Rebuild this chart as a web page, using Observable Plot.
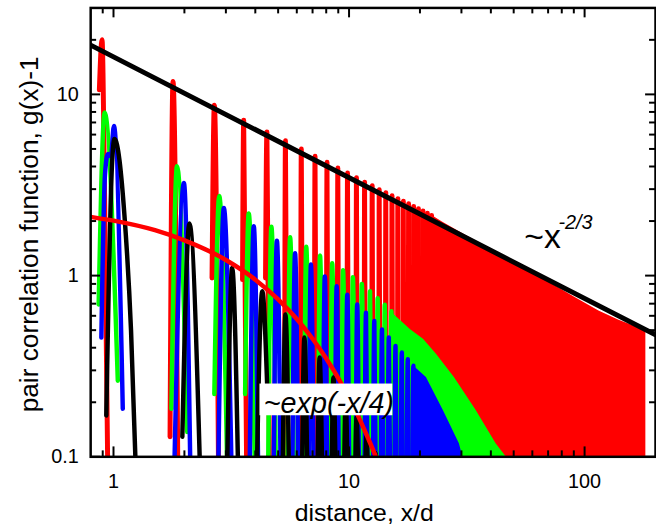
<!DOCTYPE html>
<html><head><meta charset="utf-8">
<script src="https://cdn.jsdelivr.net/npm/d3@7"></script>
<script src="https://cdn.jsdelivr.net/npm/@observablehq/plot@0.6"></script>
<style>
html,body{margin:0;padding:0;background:#fff;overflow:hidden;}
#chart{width:656px;height:532px;overflow:hidden;}
svg{display:block;}
</style></head><body><div id="chart"></div>
<script>
// ---------- data ----------
const BOTTOM = 0.07; // legs continue below the 0.1 frame edge

// red (sharp peaks)
const redPeakX = [0.892, 1.789, 2.68, 3.57, 4.48, 5.37, 6.27, 7.17, 8.06, 8.96, 9.85, 10.75, 11.64, 12.54, 13.43, 14.32, 15.22, 16.11, 17.0, 17.9, 18.8, 19.7, 20.6, 21.5, 22.4];
const redPeakY = [20, 11.8, 8.7, 7.2, 6.2, 5.55, 5.0, 4.56, 4.22, 3.93, 3.68, 3.47, 3.28, 3.13, 2.98, 2.87, 2.76, 2.66, 2.57, 2.49, 2.41, 2.34, 2.27, 2.21, 2.15];
const redFirstX = [0.871, 0.894, 0.917, 0.947];
const redFirstY = [10.6, 20, 2.66, BOTTOM];
const redLegs = [[1.738, 0.129, 1.878, BOTTOM], [2.62, 0.97, 2.795, BOTTOM], [3.53, 0.95, 3.68, BOTTOM], [4.42, 0.97, 4.6, BOTTOM]];
const redEnvX = [22.4, 25, 31.5, 40, 50, 60, 75, 90, 115, 140, 160, 182];
const redEnvY = [2.15, 1.97, 1.66, 1.40, 1.19, 1.04, 0.88, 0.765, 0.637, 0.567, 0.53, 0.50];

// green
const greenPeakX = [0.917, 1.86, 2.81, 3.75, 4.68, 5.62, 6.58, 7.53, 8.48, 9.43, 10.38, 11.33, 12.28, 13.23, 14.18, 15.13];
const greenPeakY = [7.94, 4.02, 2.75, 2.20, 1.86, 1.63, 1.445, 1.29, 1.17, 1.07, 0.98, 0.90, 0.82, 0.75, 0.69, 0.635];
const greenFirstX = [0.865, 0.917, 1.043];
const greenFirstY = [0.692, 7.94, 0.263];
const greenLegs = [[1.762, 0.184, 2.056, 0.137], [2.68, 0.222, 3.05, BOTTOM], [3.62, 0.222, 3.99, BOTTOM]];
const greenEnvX = [15.13, 15.5, 18.2, 20.7, 23.5, 28.0, 34.6, 42.1, 46.4, 47.5];
const greenEnvY = [0.635, 0.61, 0.505, 0.445, 0.368, 0.274, 0.181, 0.118, 0.1, 0.09];

// blue
const bluePeakX = [1.004, 1.99, 2.94, 3.94, 4.94, 5.90, 6.89, 7.89, 8.86, 9.83, 10.83, 11.8, 12.8, 13.8, 14.75, 15.75, 16.75, 17.75, 18.75];
const bluePeakY = [6.7, 3.24, 2.36, 1.87, 1.56, 1.33, 1.15, 0.99, 0.873, 0.785, 0.692, 0.623, 0.561, 0.505, 0.455, 0.409, 0.376, 0.346, 0.318];
const blueFirstX = [0.888, 0.92, 0.947, 0.975, 1.004, 1.095];
const blueFirstY = [0.455, 3.6, 4.69, 4.55, 6.7, 0.184];
const blueLegs = [[1.806, BOTTOM, 2.124, BOTTOM], [2.79, 0.1, 3.18, BOTTOM], [3.78, BOTTOM, 4.12, BOTTOM]];
const blueEnvX = [18.75, 21.3, 25.1, 29.4, 30.4, 31.5];
const blueEnvY = [0.318, 0.274, 0.181, 0.118, 0.1, 0.09];

// black
const blackPeakX = [1.01, 2.10, 3.19, 4.28, 5.37, 6.46, 7.50, 8.58, 9.67, 10.76, 11.85, 12.94];
const blackPeakY = [5.67, 1.94, 1.10, 0.82, 0.61, 0.455, 0.353, 0.274, 0.21, 0.165, 0.13, 0.105];
const blackFirstX = [0.932, 0.985, 1.01, 1.113, 1.187, 1.25];
const blackFirstY = [0.169, 4.05, 5.67, 2.15, 0.497, BOTTOM];
const blackLegs = [[1.96, 0.129, 2.34, BOTTOM], [3.03, BOTTOM, 3.39, BOTTOM], [4.05, BOTTOM, 4.49, 0.252]];

// guide curves
const expX = [0.8, 1, 1.5, 2, 3, 4, 5, 6, 7, 8, 9, 10, 11, 12, 13, 13.5];
const expY = [2.11, 2.01, 1.78, 1.565, 1.22, 0.95, 0.74, 0.576, 0.448, 0.349, 0.272, 0.212, 0.165, 0.128, 0.1, 0.088];
const powX = [0.8, 200];
const powY = [18.7, 0.471];

// ticks
const xMajor = [1, 10, 100];
const xMinor = [0.9, 2, 3, 4, 5, 6, 7, 8, 9, 20, 30, 40, 50, 60, 70, 80, 90];
const yMajor = [0.1, 1, 10];
const yMinor = [0.2, 0.3, 0.4, 0.5, 0.6, 0.7, 0.8, 0.9, 2, 3, 4, 5, 6, 7, 8, 9, 20];

// ---------- build ----------
function peakRows(series, PX, PY, firstX, firstY, legs, dl, dr) {
  const rows = [];
  PX.forEach((x, i) => {
    let pts;
    if (i === 0) pts = firstX.map((fx, j) => [fx, firstY[j]]);
    else if (legs[i - 1]) {
      const [lx, ly, rx, ry] = legs[i - 1];
      pts = [[lx, ly], [x, PY[i]], [rx, ry]];
    } else pts = [[x - dl, BOTTOM], [x, PY[i]], [x + dr, BOTTOM]];
    pts.forEach(([px, py]) => rows.push({id: series + i, x: px, y: py}));
  });
  return rows;
}
const zip = (X, Y) => X.map((x, i) => ({x, y: Y[i]}));

const redRows = peakRows("r", redPeakX, redPeakY, redFirstX, redFirstY, redLegs, 0.05, 0.1);
const greenRows = peakRows("g", greenPeakX, greenPeakY, greenFirstX, greenFirstY, greenLegs, 0.15, 0.22);
const blueRows = peakRows("b", bluePeakX, bluePeakY, blueFirstX, blueFirstY, blueLegs, 0.16, 0.19);
const blackRows = peakRows("k", blackPeakX, blackPeakY, blackFirstX, blackFirstY, blackLegs, 0.15, 0.2);

const W = 662, H = 532, mL = 91, mR = 1, mT = 7.5, mB = 71.5;
const plotW = W - mL - mR, plotH = H - mT - mB;
const FONT = "'Liberation Sans', Arial, Helvetica, sans-serif";

const peakLine = (rows, color, sw) => Plot.line(rows, {x: "x", y: "y", z: "id", stroke: color, strokeWidth: sw, curve: "monotone-x", clip: true, strokeLinecap: "round", strokeLinejoin: "round"});
const envArea = (X, Y, color) => Plot.areaY(zip(X, Y), {x: "x", y1: () => BOTTOM, y2: "y", fill: color, clip: true});

const chart = Plot.plot({
  width: W, height: H,
  marginLeft: mL, marginRight: mR, marginTop: mT, marginBottom: mB,
  style: {fontFamily: FONT, fontSize: "20px", background: "white", color: "black"},
  x: {type: "log", domain: [0.8, 200], ticks: xMajor, tickSize: 0, tickPadding: 17, tickFormat: d => String(d), label: null},
  y: {type: "log", domain: [0.1, 30], ticks: yMajor, tickSize: 0, tickPadding: 12, tickFormat: d => String(d), label: null},
  marks: [
    peakLine(redRows, "#ff0000", 5),
    envArea(redEnvX, redEnvY, "#ff0000"),
    peakLine(greenRows, "#00ff00", 4.5),
    envArea(greenEnvX, greenEnvY, "#00ff00"),
    peakLine(blueRows, "#0000ff", 4.5),
    envArea(blueEnvX, blueEnvY, "#0000ff"),
    peakLine(blackRows, "#000000", 4.5),
    Plot.line(zip(expX, expY), {x: "x", y: "y", stroke: "#ff0000", strokeWidth: 4.5, curve: "monotone-x", clip: true}),
    Plot.line(zip(powX, powY), {x: "x", y: "y", stroke: "#000000", strokeWidth: 5, clip: true}),
    Plot.text(["~exp(-x/4)"], {x: () => 8.21, y: () => 0.196, text: d => d, fontSize: 29, fontStyle: "italic", textAnchor: "middle", lineAnchor: "middle", fill: "black"}),
    Plot.text(["~x"], {x: () => 55.5, y: () => 1.62, text: d => d, fontSize: 34, textAnchor: "start", lineAnchor: "middle", fill: "black"}),
    Plot.text(["-2/3"], {x: () => 77.5, y: () => 1.96, text: d => d, fontSize: 20, fontStyle: "italic", textAnchor: "start", lineAnchor: "middle", fill: "black"}),
    // inward ticks on all four sides
    Plot.ruleX(xMajor, {x: d => d, insetBottom: plotH - 10, strokeWidth: 2}),
    Plot.ruleX(xMinor, {x: d => d, insetBottom: plotH - 6, strokeWidth: 2}),
    Plot.ruleX(xMajor, {x: d => d, insetTop: plotH - 10, strokeWidth: 2}),
    Plot.ruleX(xMinor, {x: d => d, insetTop: plotH - 6, strokeWidth: 2}),
    Plot.ruleY(yMajor, {y: d => d, insetRight: plotW - 10, strokeWidth: 2}),
    Plot.ruleY(yMinor, {y: d => d, insetRight: plotW - 6, strokeWidth: 2}),
    Plot.ruleY(yMajor, {y: d => d, insetLeft: plotW - 10, strokeWidth: 2}),
    Plot.ruleY(yMinor, {y: d => d, insetLeft: plotW - 6, strokeWidth: 2}),
    Plot.frame({stroke: "black", strokeWidth: 2.5}),
    Plot.text(["distance, x/d"], {frameAnchor: "bottom", text: d => d, textAnchor: "middle", dx: -9, dy: 57, fontSize: 25, lineAnchor: "middle", fill: "black"}),
    Plot.text(["pair correlation function, g(x)-1"], {frameAnchor: "left", text: d => d, textAnchor: "middle", rotate: -90, dx: -62, dy: 2, fontSize: 26.5, lineAnchor: "middle", fill: "black"})
  ]
});
document.getElementById("chart").append(chart);

// white box behind the exp label
const svgBox = chart.getBoundingClientRect();
const label = [...chart.querySelectorAll("text")].find(e => e.textContent === "~exp(-x/4)");
if (label) {
  const b = label.getBoundingClientRect();
  const r = document.createElementNS("http://www.w3.org/2000/svg", "rect");
  r.setAttribute("x", b.left - svgBox.left - 2);
  r.setAttribute("y", b.top - svgBox.top);
  r.setAttribute("width", b.width + 4);
  r.setAttribute("height", b.height);
  r.setAttribute("fill", "white");
  const g = label.closest("g") || label;
  g.parentNode.insertBefore(r, g);
}
</script></body></html>
